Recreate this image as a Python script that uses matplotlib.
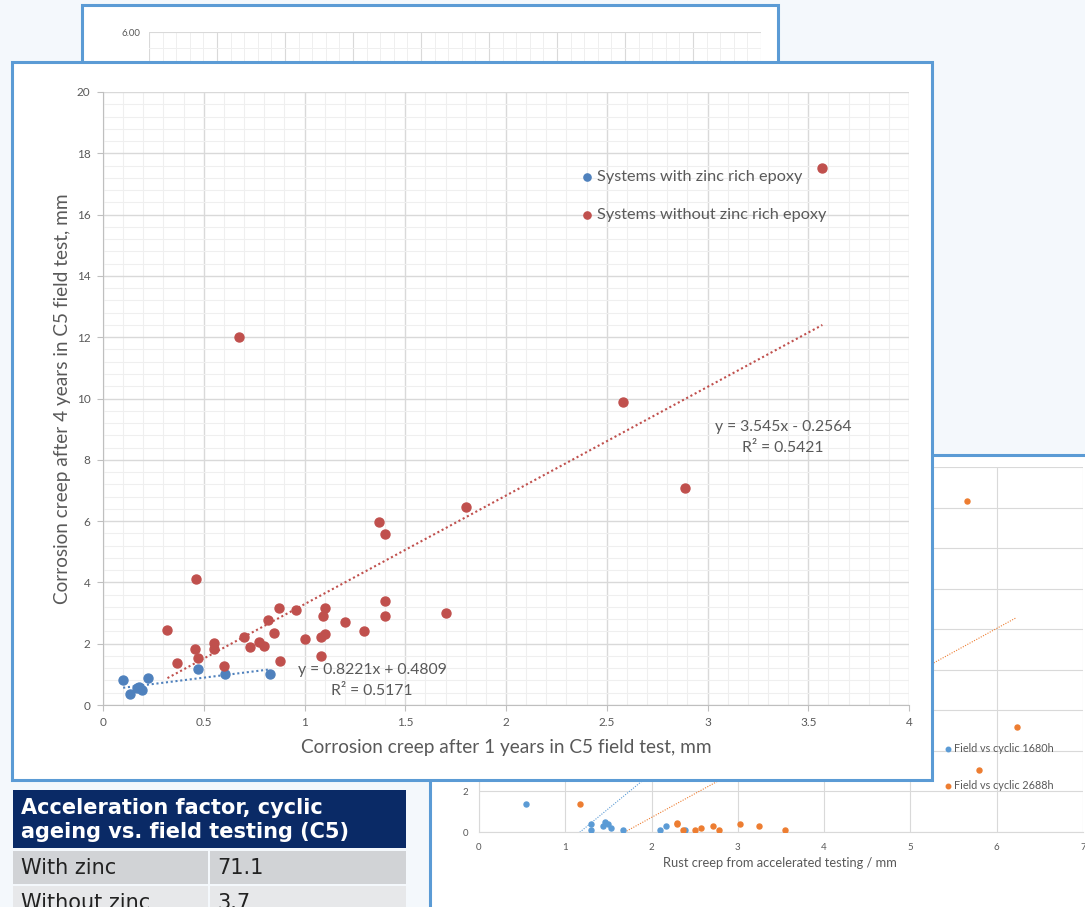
import numpy as np
import matplotlib.pyplot as plt
from matplotlib.patches import Rectangle
from matplotlib.ticker import MultipleLocator, FuncFormatter

plt.rcParams['font.family'] = ['Lato', 'DejaVu Sans']

W, H = 1085, 907

# field test: creep after 1 year vs creep after 4 years (C5)
zinc_x = [0.10, 0.135, 0.168, 0.18, 0.193, 0.224, 0.47, 0.607, 0.83]
zinc_y = [0.82, 0.37, 0.54, 0.59, 0.49, 0.89, 1.17, 1.00, 1.02]
no_zinc_x = [0.675, 1.80, 1.37, 1.40, 0.46, 1.40, 1.40, 1.70, 0.32, 0.875,
             0.96, 1.10, 1.09, 0.82, 0.85, 1.20, 1.295, 0.70, 0.55, 0.553,
             0.455, 0.47, 0.368, 0.60, 0.73, 0.776, 0.80, 1.00, 1.08, 1.10,
             1.08, 0.878, 2.58, 2.89, 3.57]
no_zinc_y = [12.0, 6.47, 5.96, 5.58, 4.10, 3.38, 2.91, 3.00, 2.45, 3.16,
             3.09, 3.15, 2.91, 2.77, 2.35, 2.71, 2.41, 2.21, 2.01, 1.84,
             1.83, 1.54, 1.38, 1.26, 1.89, 2.05, 1.93, 2.15, 2.22, 2.32,
             1.61, 1.45, 9.88, 7.07, 17.52]
zinc_fit = (0.8221, 0.4809, 0.5171)      # slope, intercept, R2
no_zinc_fit = (3.545, -0.2564, 0.5421)

# accelerated (cyclic) testing vs field
cyc1680_x = [0.55, 1.30, 1.30, 1.44, 1.46, 1.50, 1.53, 1.67, 2.10, 2.17, 2.39]
cyc1680_y = [1.38, 0.39, 0.08, 0.30, 0.48, 0.39, 0.18, 0.08, 0.08, 0.28, 0.08]
cyc2688_x = [5.66, 6.23, 5.80, 1.165, 2.29, 2.30, 2.36, 2.50, 2.57, 2.71,
             2.78, 3.02, 3.25, 3.55]
cyc2688_y = [16.3, 5.2, 3.08, 1.38, 0.46, 0.39, 0.08, 0.08, 0.18, 0.28,
             0.08, 0.38, 0.28, 0.08]
cyc1680_fit = (3.5, -4.1)
cyc2688_fit = (2.33, -3.94)

table_title = 'Acceleration factor, cyclic\nageing vs. field testing (C5)'
table_rows = [('With zinc', '71.1'), ('Without zinc', '3.7')]

FRAME = '#5b9bd5'
GRID = '#d9d9d9'
MINOR = '#efefef'
TXT = '#595959'


def fig_box(x0, y0, x1, y1):
    # pixel box, origin top-left -> [left, bottom, width, height] in figure fraction
    return [x0 / W, 1 - y1 / H, (x1 - x0) / W, (y1 - y0) / H]


def add_rect(fig, x0, y0, x1, y1, z, face='white', edge=FRAME, lw=2.2):
    l, b, w, h = fig_box(x0, y0, x1, y1)
    fig.add_artist(Rectangle((l, b), w, h, transform=fig.transFigure,
                             facecolor=face, edgecolor=edge, linewidth=lw, zorder=z))


def fig_text(fig, x, y, s, **kw):
    fig.text(x / W, 1 - y / H, s, **kw)


def trend(ax, xs, fit, color, lw):
    xx = np.array([min(xs), max(xs)])
    ax.plot(xx, fit[0] * xx + fit[1], ls=(0, (1, 1.3)), color=color, lw=lw, zorder=2)


fig = plt.figure(figsize=(W / 100, H / 100), dpi=100, facecolor='#f4f8fc')

# --- chart at the back (only the top strip shows) ---
add_rect(fig, 82, 5, 778, 400, z=1)
ax0 = fig.add_axes(fig_box(149, 32, 761, 512), zorder=2)
ax0.set_xlim(0, 9)
ax0.set_ylim(0, 6)
ax0.xaxis.set_major_locator(MultipleLocator(1))
ax0.xaxis.set_minor_locator(MultipleLocator(0.2))
ax0.yaxis.set_major_locator(MultipleLocator(1))
ax0.yaxis.set_minor_locator(MultipleLocator(0.2))
ax0.yaxis.set_major_formatter(FuncFormatter(lambda v, _: f'{v:.2f}'))
ax0.grid(which='major', color=GRID, lw=0.8)
ax0.grid(which='minor', color=MINOR, lw=0.7)
for s in ax0.spines.values():
    s.set_visible(False)
ax0.tick_params(which='both', length=0, labelsize=7, labelcolor=TXT, pad=6)
ax0.tick_params(axis='x', labelbottom=False)

# --- cyclic vs field chart, lower right ---
add_rect(fig, 430, 455, 1100, 925, z=3)
ax2 = fig.add_axes(fig_box(479, 467, 1083, 832), zorder=4)
ax2.set_xlim(0, 7)
ax2.set_ylim(0, 18)
ax2.xaxis.set_major_locator(MultipleLocator(1))
ax2.yaxis.set_major_locator(MultipleLocator(2))
ax2.grid(color=GRID, lw=0.8)
ax2.set_axisbelow(True)
for side in ['top', 'right']:
    ax2.spines[side].set_visible(False)
for side in ['left', 'bottom']:
    ax2.spines[side].set_color(GRID)
ax2.tick_params(length=0, labelsize=7, labelcolor=TXT, pad=8)
ax2.scatter(cyc1680_x, cyc1680_y, s=13, color='#5b9bd5', zorder=3, label='Field vs cyclic 1680h')
ax2.scatter(cyc2688_x, cyc2688_y, s=13, color='#ed7d31', zorder=3, label='Field vs cyclic 2688h')
trend(ax2, cyc1680_x, cyc1680_fit, '#5b9bd5', 0.8)
trend(ax2, cyc2688_x, cyc2688_fit, '#ed7d31', 0.8)
ax2.set_xlabel('Rust creep from accelerated testing / mm', fontsize=9.3, color=TXT)
ax2.xaxis.set_label_coords(0.498, -0.068)
ax2.legend(loc='upper left', bbox_to_anchor=(0.762, 0.258), frameon=False,
           fontsize=7.8, labelcolor=TXT, handlelength=0.6, handletextpad=0.3,
           labelspacing=2.4, borderpad=0, markerscale=0.9)

# --- main chart ---
add_rect(fig, 12, 62, 932, 780, z=5)
ax = fig.add_axes(fig_box(103, 92, 909, 705), zorder=6)
ax.set_xlim(0, 4)
ax.set_ylim(0, 20)
ax.xaxis.set_major_locator(MultipleLocator(0.5))
ax.xaxis.set_minor_locator(MultipleLocator(0.1))
ax.yaxis.set_major_locator(MultipleLocator(2))
ax.yaxis.set_minor_locator(MultipleLocator(0.4))
ax.xaxis.set_major_formatter(FuncFormatter(lambda v, _: f'{v:g}'))
ax.grid(which='major', color=GRID, lw=1.0)
ax.grid(which='minor', color=MINOR, lw=0.8)
ax.set_axisbelow(True)
for side in ['top', 'right']:
    ax.spines[side].set_visible(False)
for side in ['left', 'bottom']:
    ax.spines[side].set_color('#bfbfbf')
ax.tick_params(which='major', direction='out', length=4, color='#bfbfbf',
               labelsize=8.5, labelcolor=TXT, pad=5)
ax.tick_params(which='minor', length=0)

ax.scatter(zinc_x, zinc_y, s=42, color='#4f81bd', zorder=3, label='Systems with zinc rich epoxy')
ax.scatter(no_zinc_x, no_zinc_y, s=42, color='#c0504d', zorder=3, label='Systems without zinc rich epoxy')
trend(ax, zinc_x, zinc_fit, '#4f81bd', 1.5)
trend(ax, no_zinc_x, no_zinc_fit, '#c0504d', 1.5)

ax.text(1.335, 0.80, f'y = {zinc_fit[0]}x + {zinc_fit[1]}\nR² = {zinc_fit[2]}',
        ha='center', va='center', fontsize=11.3, color=TXT, linespacing=1.6)
ax.text(3.375, 8.72, f'y = {no_zinc_fit[0]}x - {-no_zinc_fit[1]}\nR² = {no_zinc_fit[2]}',
        ha='center', va='center', fontsize=11.3, color=TXT, linespacing=1.6)

ax.set_xlabel('Corrosion creep after 1 years in C5 field test, mm', fontsize=13.7, color=TXT)
ax.set_ylabel('Corrosion creep after 4 years in C5 field test, mm', fontsize=13.7, color=TXT)
ax.xaxis.set_label_coords(0.5, -0.056)
ax.yaxis.set_label_coords(-0.04, 0.5)
ax.legend(loc='upper left', bbox_to_anchor=(0.582, 0.886), frameon=False,
          fontsize=11.7, labelcolor=TXT, handlelength=0.8, handletextpad=0.25,
          labelspacing=1.45, borderpad=0, markerscale=0.8)

# --- acceleration factor table ---
add_rect(fig, 13, 790, 406, 848, z=7, face='#0a2a66', edge='none', lw=0)
fig_text(fig, 21, 820, table_title, ha='left', va='center', fontsize=15,
         fontweight='bold', color='white', family='DejaVu Sans', linespacing=1.25, zorder=8)
row_faces = ['#d1d3d6', '#e7e8ea']
row_tops = [851, 886]
for (label, value), top, face in zip(table_rows, row_tops, row_faces):
    add_rect(fig, 13, top, 208, top + 33, z=7, face=face, edge='none', lw=0)
    add_rect(fig, 210, top, 406, top + 33, z=7, face=face, edge='none', lw=0)
    fig_text(fig, 21, top + 17, label, ha='left', va='center', fontsize=15,
             color='#222222', family='DejaVu Sans', zorder=8)
    fig_text(fig, 217, top + 17, value, ha='left', va='center', fontsize=15,
             color='#222222', family='DejaVu Sans', zorder=8)

fig.savefig('out.png', dpi=100, facecolor=fig.get_facecolor())
